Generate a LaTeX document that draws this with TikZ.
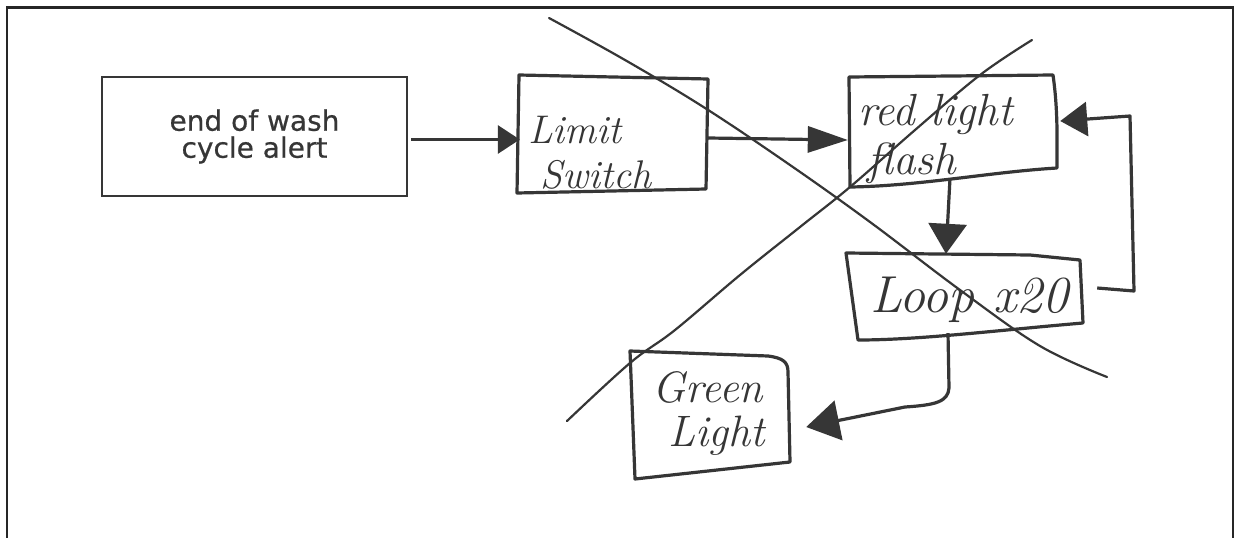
\documentclass[tikz,border=0pt]{standalone}
\usepackage{fontspec}
\newfontfamily\boxfont[FakeBold=0.6]{DejaVu Sans}
\usetikzlibrary{arrows.meta,calc}
\definecolor{ink}{HTML}{363636}
\begin{document}
\begin{tikzpicture}[x=1pt,y=-1pt,
  outline/.style={draw=ink, line width=3.2pt, line join=round, line cap=round},
  cross/.style={draw=ink, line width=2.2pt, line cap=round},
  conn/.style={draw=ink, line width=3.2pt, line join=round},
  frameline/.style={draw=black!85, line width=1.6pt},
  holder/.style={draw=none, rectangle, inner sep=0pt},
  hand/.style={text=ink, inner sep=0pt, anchor=base west},
]
\fill[white] (0,0) rectangle (1241,538);
\useasboundingbox (0,0) rectangle (1241,538);

% frame (open at the bottom)
\draw[frameline, line width=3pt] (6,7) -- (1234,7);
\draw[frameline] (7,6) -- (7,538);
\draw[frameline] (1233,6) -- (1233,538);

% box A (printed)
\node[draw=ink, line width=2.5pt, minimum width=305pt, minimum height=119pt,
      text=ink, align=center, font=\boxfont\fontsize{28}{27}\selectfont]
      (A) at (254.5,136.5) {end of wash\\cycle alert};

% hand-drawn boxes: holders for connections
\node[holder, minimum width=190pt, minimum height=117pt] (B) at (612,133.5) {};
\node[holder, minimum width=207pt, minimum height=112pt] (C) at (953.5,131) {};
\node[holder, minimum width=236pt, minimum height=86pt]  (D) at (965,297) {};
\node[holder, minimum width=158pt, minimum height=127pt] (E) at (711,415.5) {};

% outlines
\draw[outline] (519,75) -- (708,79) -- (706,189) -- (517,193) -- cycle;
\draw[outline] (849,77) -- (1053,75) .. controls (1058,110) and (1057,140) .. (1057,168)
   .. controls (990,172) and (920,186) .. (850,187) -- cycle;
\draw[outline] (846,253) -- (1030,255) -- (1080,260) -- (1083,323)
   .. controls (1000,330) and (920,340) .. (858,340) -- cycle;
\draw[outline] (630,351) -- (768,356) .. controls (783,358) and (788,362) .. (788,372)
   -- (790,462) -- (635,479) -- cycle;

% handwritten texts
\node[hand, font=\itshape\fontsize{40}{40}\selectfont] (B1) at (528,143) {Limit};
\node[hand, font=\itshape\fontsize{40}{40}\selectfont] (B2) at (540,188) {Switch};
\node[hand, font=\itshape\fontsize{45}{45}\selectfont] (C1) at (858,125) {red light};
\node[hand, font=\itshape\fontsize{45}{45}\selectfont] (C2) at (867,174) {flash};
\node[hand, font=\itshape\fontsize{52}{52}\selectfont] (D1) at (870,312) {Loop x20};
\node[hand, font=\itshape\fontsize{44}{44}\selectfont] (E1) at (652,402) {Green};
\node[hand, font=\itshape\fontsize{44}{44}\selectfont] (E2) at (668,446) {Light};

% connectors
\draw[conn, -{Triangle[length=22pt,width=28pt]}] ($(A.east)+(3,3)$) -- ($(B.west)+(3,6)$);
\draw[conn, -{Triangle[length=40pt,width=26pt]}] ($(B.east)+(1,4.5)$) -- ($(C.west)+(-2,9)$);
\draw[conn, -{Triangle[length=30pt,width=38pt]}] ($(C.south)+(-3.5,-9)$) -- ($(D.north)+(-19,0)$);
\coordinate (fb1) at (1134,291);
\coordinate (fb2) at (1130,116);
\draw[conn, -{Triangle[length=27pt,width=34pt]}] ($(D.east)+(14,-9)$) -- (fb1) -- (fb2) -- ($(C.east)+(3,-10)$);
\draw[conn, -{Triangle[length=33pt,width=40pt]}] ($(D.south)+(-17,-7)$) -- (949,388)
   .. controls (948,402) and (935,405) .. (905,407) -- ($(E.east)+(16,11.5)$);

% crossing-out lines
\draw[cross] plot[smooth, tension=0.6] coordinates {(549,18) (625,60) (705,108) (790,165) (870,222) (960,290) (1040,346) (1107,377)};
\draw[cross] plot[smooth, tension=0.6] coordinates {(1032,40) (980,75) (915,130) (850,187) (800,227) (740,275) (675,330) (630,363) (567,421)};
\end{tikzpicture}
\end{document}
